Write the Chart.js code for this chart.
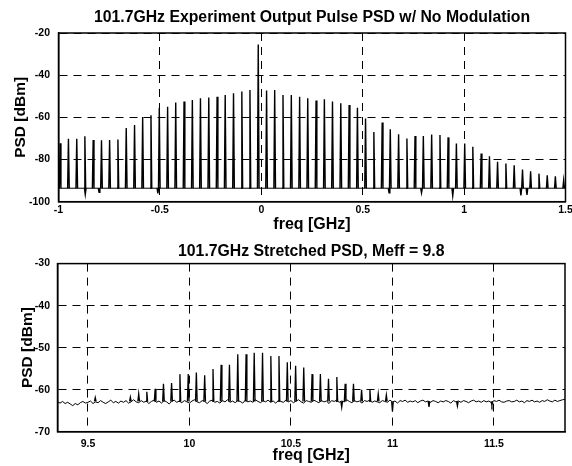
<!DOCTYPE html>
<html>
<head>
<meta charset="utf-8">
<script src="https://cdn.jsdelivr.net/npm/chart.js@4.4.0/dist/chart.umd.min.js"></script>
<style>
  body { margin: 0; background: #fff; width: 572px; height: 466px; overflow: hidden; position: relative; }
  canvas { position: absolute; left: 0; }
  #dalt { top: 0; }
  #baix { top: 233px; }
</style>
</head>
<body>
<canvas id="dalt" width="572" height="233"></canvas>
<canvas id="baix" width="572" height="233"></canvas>
<script>
// top panel: comb lines of the output pulse (GHz, dBm)
var topFreq = [-0.992, -0.951, -0.910, -0.870, -0.829, -0.788, -0.748, -0.707, -0.666, -0.625,
               -0.585, -0.544, -0.503, -0.462, -0.422, -0.381, -0.340, -0.300, -0.259, -0.218,
               -0.178, -0.137, -0.096, -0.056, -0.015, 0.026, 0.066, 0.107, 0.148, 0.189,
               0.229, 0.270, 0.311, 0.351, 0.392, 0.433, 0.474, 0.514, 0.555, 0.596,
               0.636, 0.677, 0.718, 0.758, 0.799, 0.840, 0.881, 0.921, 0.962, 1.003,
               1.043, 1.084, 1.125, 1.165, 1.206, 1.247, 1.288, 1.328, 1.369, 1.410,
               1.450, 1.491];
var topPeak = [-72.3, -70.2, -70.2, -69.0, -70.7, -70.9, -70.8, -70.5, -65.0, -63.6,
               -59.8, -59.0, -55.5, -55.0, -53.0, -52.5, -51.8, -51.0, -50.6, -50.2,
               -49.4, -48.6, -47.8, -47.0, -25.5, -47.3, -47.0, -49.4, -49.4, -50.2,
               -51.0, -52.0, -51.4, -52.5, -53.3, -54.1, -55.4, -60.5, -67.0, -62.4,
               -65.7, -68.0, -70.0, -68.9, -68.9, -68.1, -68.4, -69.5, -72.4, -72.4,
               -74.0, -77.1, -78.4, -81.1, -81.9, -82.7, -84.8, -85.6, -86.7, -87.5,
               -87.9, -89.8];
var topFloor = -93.6;
var topDipFreq = [-0.868, -0.800, -0.510, 0.630, 0.790, 0.944, 1.280, 1.310];
var topDipVal = [-96.6, -95.5, -96.0, -95.8, -95.8, -97.2, -97.0, -96.8];
var topXTicks = [-1, -0.5, 0, 0.5, 1, 1.5];
var topYTicks = [-100, -80, -60, -40, -20];

// bottom panel: stretched spectrum
var botFreq = [9.709, 9.750, 9.790, 9.831, 9.872, 9.912, 9.953, 9.994, 10.034, 10.075,
               10.116, 10.156, 10.197, 10.238, 10.279, 10.319, 10.360, 10.401, 10.441, 10.482,
               10.523, 10.563, 10.604, 10.645, 10.685, 10.726, 10.767, 10.808, 10.848, 10.889,
               10.930, 10.970];
var botPeak = [-61.8, -61.0, -60.5, -59.8, -58.6, -58.4, -56.3, -56.3, -55.9, -56.6,
               -55.1, -54.1, -54.1, -51.6, -51.6, -51.2, -51.2, -52.0, -52.0, -53.5,
               -54.3, -54.7, -56.3, -56.3, -57.4, -57.0, -58.6, -58.6, -60.0, -60.0,
               -61.0, -61.3];
var botFloor = -62.8;
var botDipFreq = [9.536, 10.750, 11.000, 11.180, 11.320, 11.490];
var botDipVal = [-61.9, -64.2, -65.2, -64.1, -63.9, -63.7];
// noise floor, read every 0.0125 GHz from 9.35
var botNoiseStart = 9.35;
var botNoiseStep = 0.0125;
var botNoise = [-62.9, -63.2, -62.8, -63.3, -63.0, -63.4, -63.8, -63.3, -63.6, -63.1,
                -62.8, -63.2, -63.0, -62.7, -63.3, -62.9, -63.1, -62.6, -63.0, -63.3,
                -62.9, -62.5, -63.1, -62.8, -63.2, -62.7, -63.0, -62.6, -63.2, -62.9,
                -62.4, -62.9, -63.1, -62.6, -63.0, -62.7, -63.3, -62.8, -62.5, -63.0,
                -62.7, -63.2, -62.6, -62.9, -63.4, -62.8, -62.5, -63.0, -62.7, -63.1,
                -62.6, -62.9, -63.2, -62.7, -62.4, -62.9, -63.1, -62.6, -62.8, -63.3,
                -62.7, -62.5, -63.0, -62.8, -63.2, -62.6, -62.9, -62.4, -63.0, -62.7,
                -63.1, -62.6, -62.8, -63.2, -62.5, -62.9, -62.7, -63.0, -62.4, -62.8,
                -63.1, -62.6, -62.9, -62.5, -63.0, -62.7, -63.2, -62.6, -62.8, -63.0,
                -62.5, -62.9, -62.6, -63.1, -62.7, -62.4, -62.9, -63.2, -62.6, -62.8,
                -63.0, -62.5, -62.8, -63.1, -62.6, -62.9, -62.7, -63.3, -62.6, -62.8,
                -62.5, -63.0, -62.7, -62.9, -62.4, -62.8, -63.1, -62.6, -62.9, -62.7,
                -63.2, -62.6, -62.8, -62.5, -63.0, -62.7, -62.9, -63.1, -62.6, -62.8,
                -63.0, -62.5, -62.9, -62.7, -63.2, -62.6, -62.8, -62.5, -63.0, -62.7,
                -62.9, -62.6, -63.1, -62.7, -62.5, -62.9, -62.7, -63.0, -62.6, -62.8,
                -63.1, -62.7, -62.9, -62.6, -62.8, -63.2, -62.6, -62.9, -62.7, -63.0,
                -62.6, -62.8, -63.1, -62.7, -62.5, -62.9, -62.7, -63.0, -62.6, -62.9,
                -62.7, -63.1, -62.6, -62.8, -62.5, -62.9, -63.0, -62.7, -62.6, -62.9,
                -62.8, -62.5, -62.9, -62.7, -63.1, -62.6, -62.8, -62.5, -62.9, -62.7,
                -63.0, -62.6, -62.8, -62.4, -62.7, -62.9, -62.5, -62.8, -62.6, -62.4,
                -62.3];
var botXTicks = [9.5, 10, 10.5, 11, 11.5];
var botYTicks = [-70, -60, -50, -40, -30];

var FONT = "'Liberation Sans', Arial, Helvetica, sans-serif";

// narrow triangles: up from the floor to the value and back down
function pics(freq, val, base, w) {
    var pts = [];
    for (var i = 0; i < freq.length; i++) {
        pts.push({x: freq[i] - w, y: base});
        pts.push({x: freq[i], y: val[i]});
        pts.push({x: freq[i] + w, y: base});
        pts.push({x: freq[i] + w, y: null});
    }
    return pts;
}

var marc = {
    id: 'marc',
    afterDraw: function (chart) {
        var a = chart.chartArea, c = chart.ctx;
        c.save();
        c.strokeStyle = '#000';
        c.lineWidth = 1.5;
        c.strokeRect(a.left, a.top, a.right - a.left, a.bottom - a.top);
        c.restore();
    }
};

function dibuixa(id, datasets, o) {
    return new Chart(document.getElementById(id), {
        type: 'line',
        data: { datasets: datasets },
        options: {
            responsive: false,
            animation: false,
            devicePixelRatio: 1,
            layout: { padding: { left: 0, right: o.padRight, top: 0, bottom: 0 } },
            elements: { point: { radius: 0 }, line: { borderColor: '#000', borderWidth: 1, tension: 0 } },
            plugins: {
                legend: { display: false },
                tooltip: { enabled: false },
                title: {
                    display: true, text: o.title, color: '#000', fullSize: false,
                    font: { family: FONT, size: 15.8, weight: 'bold', lineHeight: 1 },
                    padding: { top: o.titleTop, bottom: o.titleBottom }
                }
            },
            scales: {
                x: {
                    type: 'linear', min: o.xmin, max: o.xmax,
                    afterBuildTicks: function (s) { s.ticks = o.xticks.map(function (v) { return { value: v }; }); },
                    afterFit: function (s) { s.height = o.xHeight; s.paddingLeft = 0; s.paddingRight = 0; },
                    ticks: {
                        color: '#000', padding: o.xTickPad, maxRotation: 0, autoSkip: false,
                        font: { family: FONT, size: 10.5, weight: 'bold' },
                        callback: function (v) { return String(v); }
                    },
                    grid: { color: '#000', lineWidth: 1, drawTicks: false },
                    border: { display: true, color: '#000', width: 1.5, dash: [8, 6] },
                    title: {
                        display: true, text: 'freq [GHz]', color: '#000',
                        font: { family: FONT, size: 16, weight: 'bold', lineHeight: 1 },
                        padding: { top: 0, bottom: o.xTitleBottom }
                    }
                },
                y: {
                    type: 'linear', min: o.ymin, max: o.ymax,
                    afterBuildTicks: function (s) { s.ticks = o.yticks.map(function (v) { return { value: v }; }); },
                    afterFit: function (s) { s.width = o.yWidth; },
                    ticks: {
                        color: '#000', padding: o.yTickPad, autoSkip: false,
                        font: { family: FONT, size: 10.5, weight: 'bold' },
                        callback: function (v) { return String(v); }
                    },
                    grid: { color: '#000', lineWidth: 1, drawTicks: false },
                    border: { display: true, color: '#000', width: 1.5, dash: [8, 6] },
                    title: {
                        display: true, text: 'PSD [dBm]', color: '#000',
                        font: { family: FONT, size: 15.5, weight: 'bold', lineHeight: 1 },
                        padding: { top: o.yTitleLeft, bottom: 0 }
                    }
                }
            }
        },
        plugins: [marc]
    });
}

var topSets = [
    { data: [{ x: -1, y: topFloor }, { x: 1.5, y: topFloor }], borderWidth: 1 },
    { data: pics(topFreq.concat(topDipFreq), topPeak.concat(topDipVal), topFloor, 0.004), borderWidth: 1.4, spanGaps: false }
];

var noise = botNoise.map(function (v, i) { return { x: botNoiseStart + i * botNoiseStep, y: v }; });
var botSets = [
    { data: noise, borderWidth: 1 },
    { data: pics(botFreq.concat(botDipFreq), botPeak.concat(botDipVal), botFloor, 0.004), borderWidth: 1.3, spanGaps: false }
];

dibuixa('dalt', topSets, {
    title: '101.7GHz Experiment Output Pulse PSD w/ No Modulation',
    titleTop: 9.75, titleBottom: 7.45, padRight: 6.5,
    xmin: -1, xmax: 1.5, xticks: topXTicks, xHeight: 31.3, xTickPad: 2.3, xTitleBottom: 0,
    ymin: -100, ymax: -20, yticks: topYTicks, yWidth: 58.5, yTickPad: 8.5, yTitleLeft: 13
});

dibuixa('baix', botSets, {
    title: '101.7GHz Stretched PSD, Meff = 9.8',
    titleTop: 10.75, titleBottom: 4.05, padRight: 7,
    xmin: 9.35, xmax: 11.85, xticks: botXTicks, xHeight: 34.3, xTickPad: 6, xTitleBottom: 2,
    ymin: -70, ymax: -30, yticks: botYTicks, yWidth: 57.5, yTickPad: 7.5, yTitleLeft: 19.5
});
</script>
</body>
</html>
